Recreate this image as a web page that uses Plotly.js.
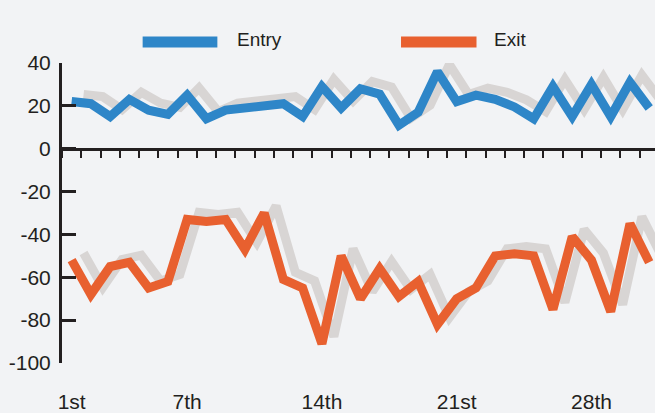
<!DOCTYPE html>
<html>
<head>
<meta charset="utf-8">
<script src="https://cdn.plot.ly/plotly-3.0.1.min.js"></script>
<style>html,body{margin:0;padding:0;background:#f2f3f5;}#chart{width:655px;height:413px;}</style>
</head>
<body>
<div id="chart"></div>
<script>
// ---- data ----
const days = [1,2,3,4,5,6,7,8,9,10,11,12,13,14,15,16,17,18,19,20,21,22,23,24,25,26,27,28,29,30,31];
const entryValues = [22,21,15,23,18,16,25,14,18,19,19.5,21,15,29,19,28,25.5,11,17,36,22,25,23,19.5,14,29,15,30,15,31,19];
const exitValues = [-52,-68,-55,-53,-65,-62,-33,-34,-33,-47,-30,-61,-65,-91,-50,-70,-56,-69,-62,-82,-70,-65,-50,-49,-50,-75,-41,-52,-76,-35,-53];
const seriesNames = ["Entry", "Exit"];
const xTickDays = [1,7,14,21,28];
const xTickLabels = ["1st","7th","14th","21st","28th"];
const yTickValues = [-100,-80,-60,-40,-20,0,20,40];
const yTickLabels = ["-100","-80","-60","-40","-20","0","20","40"];

// ---- style ----
const BG = "#f2f3f5", INK = "#231f20";
const BLUE = "#2e86c8", ORANGE = "#e8602f", SHADOW = "#d8d5d4";
const LW = 9, SHADOW_DX = 0.62, SHADOW_DY = 3.3;
const XR = [0.5, 31.3], YR = [-100, 40];

const shift = (arr, d) => arr.map(v => v + d);

const traces = [
  {x: shift(days, SHADOW_DX), y: shift(entryValues, SHADOW_DY), mode: "lines", line: {color: SHADOW, width: LW}, showlegend: false, hoverinfo: "skip"},
  {x: shift(days, SHADOW_DX), y: shift(exitValues, SHADOW_DY), mode: "lines", line: {color: SHADOW, width: LW}, showlegend: false, hoverinfo: "skip"},
  {x: days, y: entryValues, name: seriesNames[0], mode: "lines", line: {color: BLUE, width: LW}, showlegend: false},
  {x: days, y: exitValues, name: seriesNames[1], mode: "lines", line: {color: ORANGE, width: LW}, showlegend: false}
];

const boundaryTicks = days.map(d => d - 0.5);
const zeroPos = (0 - YR[0]) / (YR[1] - YR[0]);

const tickFont = {family: "Liberation Sans, Arial, sans-serif", size: 21, color: INK};
const legFont = {family: "Liberation Sans, Arial, sans-serif", size: 19, color: INK};

const layout = {
  width: 655, height: 413,
  margin: {l: 62, r: 0, t: 63, b: 50},
  paper_bgcolor: BG, plot_bgcolor: BG,
  showlegend: false,
  xaxis: {
    range: XR, anchor: "free", position: zeroPos,
    showline: true, linecolor: INK, linewidth: 3,
    ticks: "outside", ticklen: 7, tickwidth: 2, tickcolor: INK,
    tickmode: "array", tickvals: boundaryTicks, showticklabels: false,
    showgrid: false, zeroline: false, fixedrange: true
  },
  xaxis2: {
    range: XR, overlaying: "x", anchor: "y", side: "bottom",
    showline: false, ticks: "", tickmode: "array", tickvals: xTickDays, ticktext: xTickLabels,
    tickfont: tickFont, ticklabelstandoff: 24, showgrid: false, zeroline: false
  },
  yaxis: {
    range: YR, showline: true, linecolor: INK, linewidth: 3,
    ticks: "inside", ticklen: 14, tickwidth: 3, tickcolor: INK,
    tickmode: "array", tickvals: yTickValues, ticktext: yTickLabels,
    tickfont: tickFont, ticklabelstandoff: 4, showgrid: false, zeroline: false
  },
  shapes: [
    {type: "line", xref: "paper", yref: "paper", x0: 0.136, x1: 0.262, y0: 1.07, y1: 1.07, line: {color: BLUE, width: 11}},
    {type: "line", xref: "paper", yref: "paper", x0: 0.5717, x1: 0.699, y0: 1.07, y1: 1.07, line: {color: ORANGE, width: 11}}
  ],
  annotations: [
    {xref: "paper", yref: "paper", x: 0.2917, y: 1.077, xanchor: "left", yanchor: "middle", text: seriesNames[0], showarrow: false, font: legFont},
    {xref: "paper", yref: "paper", x: 0.7251, y: 1.077, xanchor: "left", yanchor: "middle", text: seriesNames[1], showarrow: false, font: legFont}
  ]
};

// empty trace so xaxis2 (label axis) is drawn
traces.push({x: [], y: [], xaxis: "x2", yaxis: "y", showlegend: false, hoverinfo: "skip"});

Plotly.newPlot("chart", traces, layout, {displayModeBar: false, staticPlot: true});
</script>
</body>
</html>
